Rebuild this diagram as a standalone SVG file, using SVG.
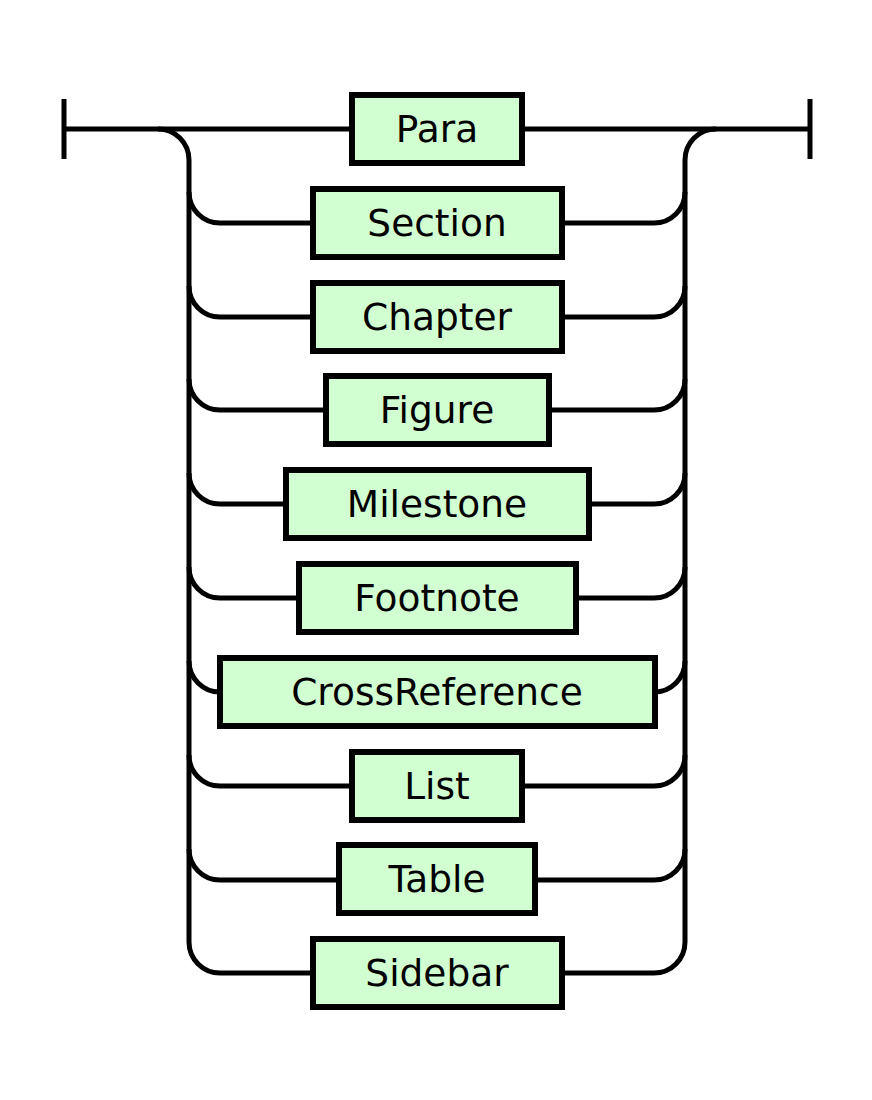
<svg xmlns="http://www.w3.org/2000/svg" width="872" height="1100" viewBox="0 0 872 1100">
<style>
.line{fill:none;stroke:#000;stroke-width:5;stroke-linecap:butt}
.box{fill:#d2ffd2;stroke:#000;stroke-width:6}
.lbl{font-family:"DejaVu Sans",sans-serif;font-size:37.5px;fill:#000;text-anchor:middle}
</style>
<rect width="872" height="1100" fill="#fff"/>
<g id="connectors" class="line">
<path d="M64,99 V159"/>
<path d="M810,99 V159"/>
<path d="M64,129 H352"/>
<path d="M522,129 H810"/>
<path d="M158,129 A31,31 0 0 1 189,160 V942 A31,31 0 0 0 220,973"/>
<path d="M716,129 A31,31 0 0 0 685,160 V942 A31,31 0 0 1 654,973"/>
<path d="M189,192 A31,31 0 0 0 220,223 H313 M562,223 H654 A31,31 0 0 0 685,192"/>
<path d="M189,286 A31,31 0 0 0 220,317 H313 M562,317 H654 A31,31 0 0 0 685,286"/>
<path d="M189,379 A31,31 0 0 0 220,410 H326 M549,410 H654 A31,31 0 0 0 685,379"/>
<path d="M189,473 A31,31 0 0 0 220,504 H286 M589,504 H654 A31,31 0 0 0 685,473"/>
<path d="M189,567 A31,31 0 0 0 220,598 H299 M576,598 H654 A31,31 0 0 0 685,567"/>
<path d="M189,661 A31,31 0 0 0 220,692 M654,692 A31,31 0 0 0 685,661"/>
<path d="M189,755 A31,31 0 0 0 220,786 H352 M522,786 H654 A31,31 0 0 0 685,755"/>
<path d="M189,849 A31,31 0 0 0 220,880 H339 M535,880 H654 A31,31 0 0 0 685,849"/>
<path d="M220,973 H313 M562,973 H654"/>
</g>
<g id="n-para"><rect class="box" x="352" y="95" width="170" height="68"/><text class="lbl" x="437" y="142">Para</text></g>
<g id="n-section"><rect class="box" x="313" y="189" width="249" height="68"/><text class="lbl" x="437" y="236">Section</text></g>
<g id="n-chapter"><rect class="box" x="313" y="283" width="249" height="68"/><text class="lbl" x="437" y="330">Chapter</text></g>
<g id="n-figure"><rect class="box" x="326" y="376" width="223" height="68"/><text class="lbl" x="437" y="423">Figure</text></g>
<g id="n-milestone"><rect class="box" x="286" y="470" width="303" height="68"/><text class="lbl" x="437" y="517">Milestone</text></g>
<g id="n-footnote"><rect class="box" x="299" y="564" width="277" height="68"/><text class="lbl" x="437" y="611">Footnote</text></g>
<g id="n-crossreference"><rect class="box" x="220" y="658" width="435" height="68"/><text class="lbl" x="437" y="705">CrossReference</text></g>
<g id="n-list"><rect class="box" x="352" y="752" width="170" height="68"/><text class="lbl" x="437" y="799">List</text></g>
<g id="n-table"><rect class="box" x="339" y="845" width="196" height="68"/><text class="lbl" x="437" y="892">Table</text></g>
<g id="n-sidebar"><rect class="box" x="313" y="939" width="249" height="68"/><text class="lbl" x="437" y="986">Sidebar</text></g>
</svg>
